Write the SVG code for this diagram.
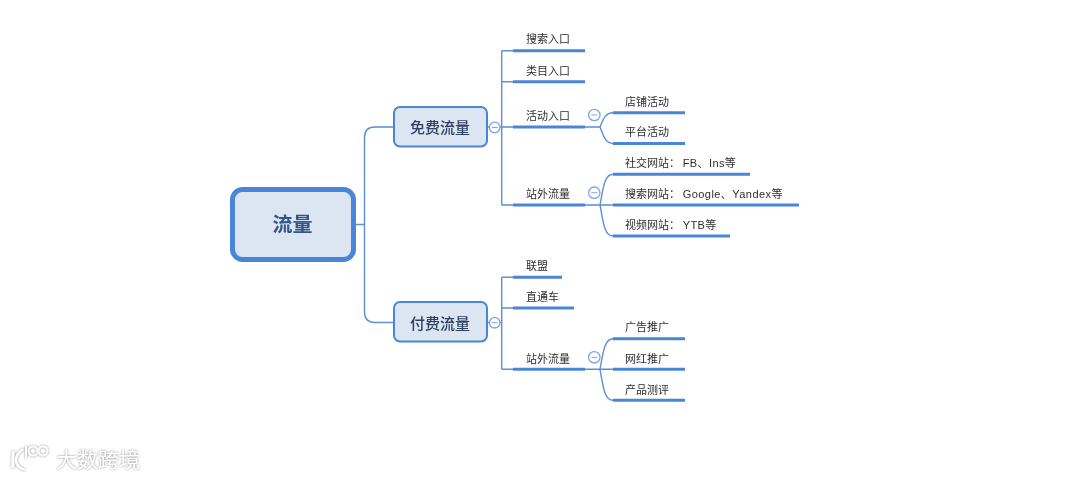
<svg xmlns="http://www.w3.org/2000/svg" width="1080" height="479" viewBox="0 0 1080 479">
<style>
text{font-family:"Liberation Sans","Noto Sans CJK SC",sans-serif;}
.c{fill:none;stroke:#5b8fd6;stroke-width:1.4;}
.u{fill:none;stroke:#4a86d8;stroke-width:3;}
.t{font-size:11px;fill:#2f2f2f;}
.m{font-size:15px;font-weight:500;fill:#2e3f5f;font-family:"Noto Sans CJK SC",sans-serif;text-anchor:middle;}
.box{fill:#dce6f2;stroke:#4a86d8;stroke-width:2;}
.col{fill:#fff;stroke:#7ea6de;stroke-width:1.3;}
.dash{stroke:#7ea6de;stroke-width:1;}
</style>
<defs>
<filter id="soft" x="-5%" y="-5%" width="110%" height="110%"><feGaussianBlur stdDeviation="0.45"/></filter>
<filter id="sh" x="-20%" y="-30%" width="140%" height="160%"><feDropShadow dx="0" dy="0" stdDeviation="1.1" flood-color="#777" flood-opacity="0.9"/></filter>
</defs>
<rect width="1080" height="479" fill="#fff"/>
<g filter="url(#soft)">
<g id="connectors">
<path class="c" d="M356 224.500H364.500M393 127H375Q364.500 127 364.500 137.500V312Q364.500 322.500 375 322.500H393"/>
<path class="c" d="M488 127H513M501.700 50.700V205M501.700 50.700H513M501.700 81.700H513M501.700 205H513"/>
<path class="c" d="M585 127H600M613 112.700C605 112.700 603 120 600 127C603 134 605 143.500 613 143.500"/>
<path class="c" d="M585 205H613M613 174.300C604 174.300 603 190 600 205C603 220 604 236 613 236"/>
<path class="c" d="M488 322.500H501.700M501.700 277.300V369.300M501.700 277.300H513M501.700 308H513M501.700 369.300H513"/>
<path class="c" d="M585 369.300H613M613 338.700C604 338.700 603 354 600 369.300C603 385 604 400.300 613 400.300"/>
<path class="u" d="M513 50.700H585M513 81.700H585M513 127H585M513 205H585"/>
<path class="u" d="M613 112.700H685M613 143.500H685M613 174.300H750M613 205H799M613 236H730"/>
<path class="u" d="M513 277.300H562M513 308H574M513 369.300H585"/>
<path class="u" d="M613 338.700H685M613 369.300H685M613 400.300H685"/>
</g>
<g id="root"><rect x="232.500" y="189.500" width="121" height="70" rx="10" fill="#dce6f2" stroke="#4a86d8" stroke-width="5"/><text x="292.500" y="232" font-size="20" font-weight="700" fill="#33548c" text-anchor="middle" style="font-family:'Noto Sans CJK SC',sans-serif">流量</text></g>
<g id="free"><rect class="box" x="394" y="107" width="93" height="39.500" rx="6"/><text class="m" x="440" y="133">免费流量</text><circle class="col" cx="494.700" cy="127.500" r="5.300"/><path class="dash" d="M491.700 127.500H497.700"/></g>
<g id="paid"><rect class="box" x="394" y="302" width="93" height="39.500" rx="6"/><text class="m" x="440" y="328.500">付费流量</text><circle class="col" cx="494.700" cy="322.700" r="5.300"/><path class="dash" d="M491.700 322.700H497.700"/></g>
<g id="n1"><text class="t" x="526" y="43">搜索入口</text></g>
<g id="n2"><text class="t" x="526" y="74.500">类目入口</text></g>
<g id="n3"><text class="t" x="526" y="120">活动入口</text><circle class="col" cx="594.300" cy="115" r="5.700"/><path class="dash" d="M591.300 115H597.300"/></g>
<g id="n4"><text class="t" x="526" y="198">站外流量</text><circle class="col" cx="594.300" cy="192.700" r="5.700"/><path class="dash" d="M591.300 192.700H597.300"/></g>
<g id="n5"><text class="t" x="625" y="105.500">店铺活动</text></g>
<g id="n6"><text class="t" x="625" y="136">平台活动</text></g>
<g id="n7"><text class="t" x="625" y="167">社交网站：<tspan x="682.700" letter-spacing="0.4">FB、Ins等</tspan></text></g>
<g id="n8"><text class="t" x="625" y="198">搜索网站：<tspan x="682.700" letter-spacing="0.45">Google、Yandex等</tspan></text></g>
<g id="n9"><text class="t" x="625" y="229">视频网站：<tspan x="682.700" letter-spacing="0.4">YTB等</tspan></text></g>
<g id="n10"><text class="t" x="526" y="269.500">联盟</text></g>
<g id="n11"><text class="t" x="526" y="301">直通车</text></g>
<g id="n12"><text class="t" x="526" y="362.500">站外流量</text><circle class="col" cx="594.300" cy="357.300" r="5.700"/><path class="dash" d="M591.300 357.300H597.300"/></g>
<g id="n13"><text class="t" x="625" y="331">广告推广</text></g>
<g id="n14"><text class="t" x="625" y="362.500">网红推广</text></g>
<g id="n15"><text class="t" x="625" y="393.500">产品测评</text></g>
</g>
<g id="watermark" filter="url(#sh)" fill="none" stroke="#fff">
<path d="M13 451V468" stroke-width="3"/>
<path d="M23 449Q16 454 16 460Q16 467 25 470" stroke-width="2.500"/>
<path d="M26 446V458" stroke-width="2"/>
<circle cx="33" cy="451" r="4.500" stroke-width="2"/>
<circle cx="43" cy="451" r="4.500" stroke-width="2"/>
<text x="56" y="467" font-size="21" fill="#fff" stroke="none" style="font-family:'Noto Sans CJK SC',sans-serif">大数跨境</text>
</g>
</svg>
